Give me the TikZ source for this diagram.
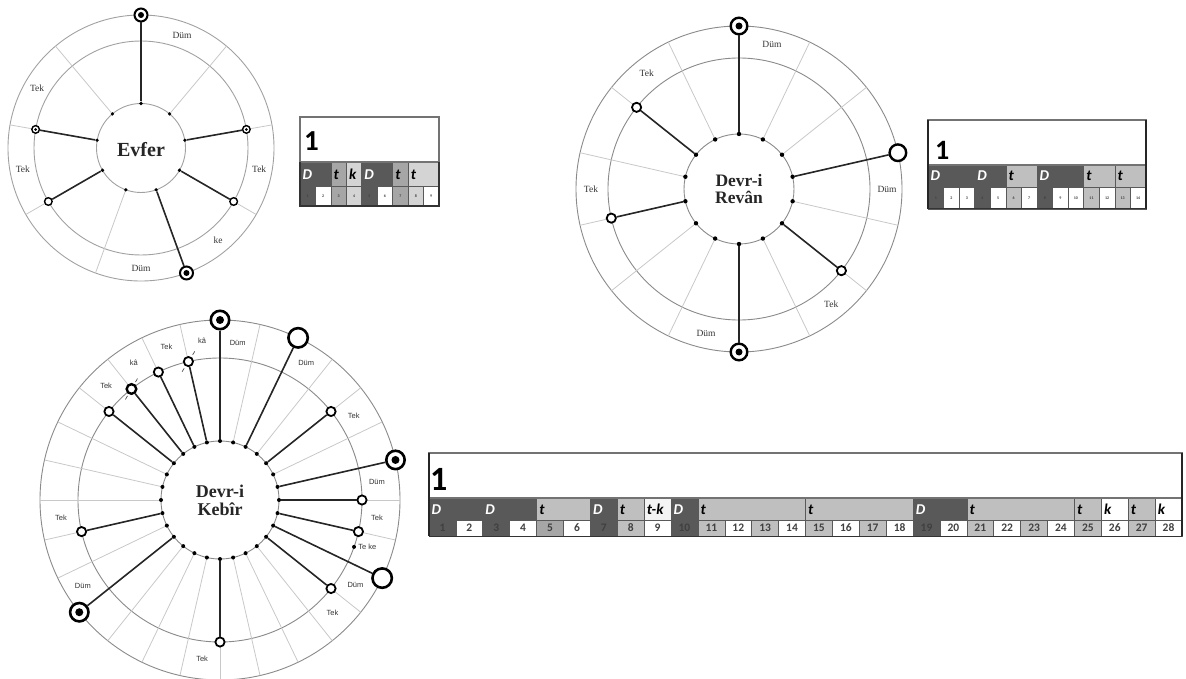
\documentclass[tikz,border=0pt]{standalone}
\usepackage{fontspec}
\setmainfont{Liberation Serif}
\newfontfamily\tabfont{Carlito}
\newfontfamily\lblsans{Liberation Sans}
\definecolor{dk}{HTML}{595959}
\definecolor{md}{HTML}{A6A6A6}
\definecolor{lt}{HTML}{BFBFBF}
\definecolor{vl}{HTML}{D4D4D4}
\definecolor{wt}{HTML}{F4F4F4}
\definecolor{ringc}{HTML}{8A8A8A}
\definecolor{radc}{HTML}{C8C8C8}
\begin{document}
\begin{tikzpicture}[x=1pt,y=1pt,
  ringline/.style={draw=ringc,line width=0.9pt},
  radline/.style={draw=radc,line width=0.8pt},
  spoke/.style={draw=black!85,line width=1.6pt},
  dotn/.style={circle,fill=black,inner sep=0pt,minimum size=#1},
  dotn/.default=4pt,
  mk/.style={circle,draw=black,fill=white,inner sep=0pt},
  bull/.style={mk,path picture={\fill[black] (path picture bounding box.center) circle (#1);}},
  lblE/.style={font=\fontsize{9.5}{10}\selectfont,text=black!80,inner sep=0pt},
  lblK/.style={font=\lblsans\fontsize{7.5}{8}\selectfont,text=black!80,inner sep=0pt},
  ctitle/.style={font=\bfseries\fontsize{#1}{#1}\selectfont,align=center,text=black!85},
  cellb/.style={draw=black!65,line width=0.6pt},
  rtxt/.style={font=\tabfont\bfseries\itshape\fontsize{#1}{#1}\selectfont,inner sep=0pt},
  ntxt/.style={font=\tabfont\bfseries\fontsize{#1}{#1}\selectfont,inner sep=0pt,text=black!75},
  onetxt/.style={font=\tabfont\bfseries\fontsize{#1}{#1}\selectfont,inner sep=0pt,anchor=base west},
  tickm/.style={draw=black!70,line width=0.7pt}
]
\useasboundingbox (0,0) rectangle (1186,-679);

%================ Evfer wheel ================
\begin{scope}[shift={(141,-148)}]
\draw[ringline,draw=ringc!80] (0,0) circle (133) (0,0) circle (107) (0,0) circle (44.5);
\foreach \i [evaluate=\i as \ang using 90-(\i-1)*40] in {1,...,9} {
  \draw[radline] (\ang:44.5) -- (\ang:133);
  \node[dotn=3.6pt] (E\i) at (\ang:44.5) {};
}
\node[bull=3, minimum size=13pt, line width=2pt] (Em1) at (90:133) {};
\node[bull=1.5, minimum size=7.6pt, line width=1.4pt] (Em3) at (10:107) {};
\node[mk, minimum size=7.6pt, line width=1.4pt] (Em4) at (-30:107) {};
\node[bull=3, minimum size=13pt, line width=2pt] (Em5) at (-70:133) {};
\node[mk, minimum size=7.6pt, line width=1.4pt] (Em7) at (210:107) {};
\node[bull=1.5, minimum size=7.6pt, line width=1.4pt] (Em8) at (170:107) {};
\foreach \k in {1,3,4,5,7,8} { \draw[spoke] (E\k) -- (Em\k); }
\node[lblE] (El1) at (70:120) {Düm};
\node[lblE] (El2) at (150:120) {Tek};
\node[lblE] (El3) at (190:120) {Tek};
\node[lblE] (El4) at (-10:120) {Tek};
\node[lblE] (El5) at (-50:120) {ke};
\node[lblE] (El6) at (-90:120) {Düm};
\node[ctitle=20] (Etitle) at (0,-2) {Evfer};
\end{scope}

%================ Evfer table ================
\begin{scope}[shift={(300,-117)}]
\def\cw{15.44}
\foreach \a/\b/\c/\t/\tc [count=\k] in {1/2/dk/D/white,3/3/md/t/black,4/4/vl/k/black,5/6/dk/D/white,7/7/md/t/black,8/9/vl/t/black} {
  \draw[cellb,fill=\c] ({(\a-1)*\cw},-45) rectangle ({\b*\cw},-69);
  \node[rtxt=15,text=\tc,anchor=base west] (ER\k) at ({(\a-1)*\cw+2.5},-63) {\t};
}
\foreach \c [count=\k] in {dk,white,md,vl,dk,white,md,vl,white} {
  \draw[cellb,fill=\c] ({(\k-1)*\cw},-69) rectangle ({\k*\cw},-89);
  \node[ntxt=4] (EN\k) at ({(\k-0.5)*\cw},-79) {\k};
}
\draw[draw=black!55,line width=1.3pt] (0,0) rectangle (139,-45);
\draw[draw=black!80,line width=1.2pt] (0,-45) -- (0,-89) -- (139,-89) -- (139,-45);
\node[onetxt=29] (ET1) at (4,-34) {1};
\end{scope}

%================ Devr-i Revan wheel ================
\begin{scope}[shift={(739,-189)}]
\draw[ringline] (0,0) circle (163) (0,0) circle (131) (0,0) circle (55);
\foreach \i [evaluate=\i as \ang using 90-(\i-1)*360/14] in {1,...,14} {
  \draw[radline] (\ang:55) -- (\ang:163);
  \node[dotn=4.4pt] (R\i) at (\ang:55) {};
}
\node[bull=3.5, minimum size=16.6pt, line width=2.4pt] (Rm1) at (90:163) {};
\node[mk, minimum size=16.6pt, line width=2.4pt] (Rm4) at ({90-3*360/14}:163) {};
\node[mk, minimum size=9.2pt, line width=1.8pt] (Rm6) at ({90-5*360/14}:131) {};
\node[bull=3.5, minimum size=16.6pt, line width=2.4pt] (Rm8) at (-90:163) {};
\node[mk, minimum size=9.2pt, line width=1.8pt] (Rm11) at ({90-10*360/14}:131) {};
\node[mk, minimum size=9.2pt, line width=1.8pt] (Rm13) at ({90-12*360/14}:131) {};
\foreach \k in {1,4,6,8,11,13} { \draw[spoke] (R\k) -- (Rm\k); }
\node[lblE] (Rl1) at ({90-0.5*360/14}:148) {Düm};
\node[lblE] (Rl2) at ({90+1.5*360/14}:148) {Tek};
\node[lblE] (Rl3) at (180:148) {Tek};
\node[lblE] (Rl4) at (0:148) {Düm};
\node[lblE] (Rl5) at ({90-5.5*360/14}:148) {Tek};
\node[lblE] (Rl6) at ({90-7.5*360/14}:148) {Düm};
\node[ctitle=17.5] (Rtitle) at (0,0) {Devr-i\\Revân};
\end{scope}

%================ Devr-i Revan table ================
\begin{scope}[shift={(928,-120)}]
\def\cw{15.571}
\foreach \a/\b/\c/\t/\tc [count=\k] in {1/3/dk/D/white,4/5/dk/D/white,6/7/lt/t/black,8/10/dk/D/white,11/12/lt/t/black,13/14/lt/t/black} {
  \draw[cellb,fill=\c] ({(\a-1)*\cw},-45) rectangle ({\b*\cw},-67);
  \node[rtxt=15,text=\tc,anchor=base west] (RR\k) at ({(\a-1)*\cw+2.5},-61) {\t};
}
\foreach \c [count=\k] in {dk,white,white,dk,white,lt,white,dk,white,white,lt,white,lt,white} {
  \draw[cellb,fill=\c] ({(\k-1)*\cw},-67) rectangle ({\k*\cw},-89);
  \node[ntxt=4] (RN\k) at ({(\k-0.5)*\cw},-78) {\k};
}
\draw[draw=black!55,line width=1.2pt] (0,0) rectangle (218,-45);
\draw[draw=black!85,line width=2.2pt] (0,0) -- (0,-89) (218,0) -- (218,-89);
\draw[draw=black!80,line width=1pt] (0,-89) -- (218,-89);
\node[onetxt=28] (RT1) at (7,-40) {1};
\end{scope}

%================ Devr-i Kebir wheel ================
\begin{scope}[shift={(220,-500)}]
\draw[ringline] (0,0) circle (180) (0,0) circle (142) (0,0) circle (59);
\foreach \i [evaluate=\i as \ang using 90-(\i-1)*360/28] in {1,...,28} {
  \draw[radline] (\ang:59) -- (\ang:180);
  \node[dotn=4pt] (K\i) at (\ang:59) {};
}
\node[bull=4, minimum size=18.4pt, line width=2.6pt] (Km1) at (90:180) {};
\node[mk, minimum size=19.4pt, line width=2.6pt] (Km3) at ({90-2*360/28}:180) {};
\node[mk, minimum size=9.2pt, line width=1.8pt] (Km5) at ({90-4*360/28}:142) {};
\node[bull=4, minimum size=18.4pt, line width=2.6pt] (Km7) at ({90-6*360/28}:180) {};
\node[mk, minimum size=9.2pt, line width=1.8pt] (Km8) at (0:142) {};
\node[mk, minimum size=9.2pt, line width=1.8pt] (Km9) at ({90-8*360/28}:142) {};
\node[mk, minimum size=19.4pt, line width=2.6pt] (Km10) at ({90-9*360/28}:180) {};
\node[mk, minimum size=9.2pt, line width=1.8pt] (Km11) at ({90-10*360/28}:142) {};
\node[mk, minimum size=9.2pt, line width=1.8pt] (Km15) at (-90:142) {};
\node[bull=4, minimum size=18.4pt, line width=2.6pt] (Km19) at ({90-18*360/28}:180) {};
\node[mk, minimum size=9.2pt, line width=1.8pt] (Km21) at ({90-20*360/28}:142) {};
\node[mk, minimum size=9.2pt, line width=1.8pt] (Km25) at ({90-24*360/28}:142) {};
\node[mk, minimum size=9.6pt, line width=2.4pt] (Km26) at ({90-25*360/28}:142) {};
\node[mk, minimum size=9.2pt, line width=1.8pt] (Km27) at ({90-26*360/28}:142) {};
\node[mk, minimum size=9.2pt, line width=1.8pt] (Km28) at ({90-27*360/28}:142) {};
\foreach \k in {1,3,5,7,8,9,10,11,15,19,21,25,26,27,28} { \draw[spoke] (K\k) -- (Km\k); }
\node[dotn=4pt] (Ktk) at ({-1.5*360/28}:142) {};
\node[lblK,anchor=west] (Kl0) at ([xshift=2pt]Ktk.east) {Te ke};
\draw[tickm] (Km26.center) ++(60:8) -- ++(60:4);
\draw[tickm] (Km26.center) ++(240:8) -- ++(240:4);
\draw[tickm] (Km28.center) ++(58:8) -- ++(58:4);
\draw[tickm] (Km28.center) ++(238:8) -- ++(238:4);
\node[lblK] (Kl1) at ({90-0.5*360/28}:158) {Düm};
\node[lblK] (Kl2) at ({90+0.5*360/28}:160) {kâ};
\node[lblK] (Kl3) at ({90+1.5*360/28}:162) {Tek};
\node[lblK] (Kl4) at ({90+2.5*360/28}:162) {kâ};
\node[lblK] (Kl5) at ({90+3.5*360/28}:161) {Tek};
\node[lblK] (Kl6) at ({90-2.5*360/28}:162) {Düm};
\node[lblK] (Kl7) at ({90-4.5*360/28}:158) {Tek};
\node[lblK] (Kl8) at ({0.5*360/28}:158) {Düm};
\node[lblK] (Kl9) at ({-0.5*360/28}:158) {Tek};
\node[lblK] (Kl10) at ({-2.5*360/28}:160) {Düm};
\node[lblK] (Kl11) at (-45:159) {Tek};
\node[lblK] (Kl12) at ({-90-0.5*360/28}:160) {Tek};
\node[lblK] (Kl13) at ({180+2.5*360/28}:162) {Düm};
\node[lblK] (Kl14) at ({180+0.5*360/28}:160) {Tek};
\node[ctitle=18] (Ktitle) at (0,0) {Devr-i\\Kebîr};
\end{scope}

%================ Devr-i Kebir table ================
\begin{scope}[shift={(429,-453)}]
\def\cw{26.893}
\foreach \a/\b/\c/\t/\tc [count=\k] in {1/2/dk/D/white,3/4/dk/D/white,5/6/lt/t/black,7/7/dk/D/white,8/8/lt/t/black,9/9/wt/t-k/black,10/10/dk/D/white,11/14/lt/t/black,15/18/lt/t/black,19/20/dk/D/white,21/24/lt/t/black,25/25/lt/t/black,26/26/white/k/black,27/27/lt/t/black,28/28/white/k/black} {
  \draw[cellb,fill=\c] ({(\a-1)*\cw},-45) rectangle ({\b*\cw},-67);
  \node[rtxt=15,text=\tc,anchor=base west] (KR\k) at ({(\a-1)*\cw+2.5},-61) {\t};
}
\foreach \c [count=\k] in {dk,white,dk,white,md,white,dk,lt,white,dk,lt,white,lt,white,lt,white,lt,white,dk,white,lt,white,lt,white,lt,white,lt,white} {
  \draw[cellb,fill=\c] ({(\k-1)*\cw},-67) rectangle ({\k*\cw},-83);
  \node[ntxt=11.5] (KN\k) at ({(\k-0.5)*\cw},-75) {\k};
}
\draw[draw=black!55,line width=1.2pt] (0,0) rectangle (753,-45);
\draw[draw=black!85,line width=2.2pt] (0,0) -- (0,-83) (753,0) -- (753,-83);
\draw[draw=black!80,line width=1pt] (0,-83) -- (753,-83);
\node[onetxt=34] (KT1) at (1,-37) {1};
\end{scope}
\end{tikzpicture}
\end{document}
